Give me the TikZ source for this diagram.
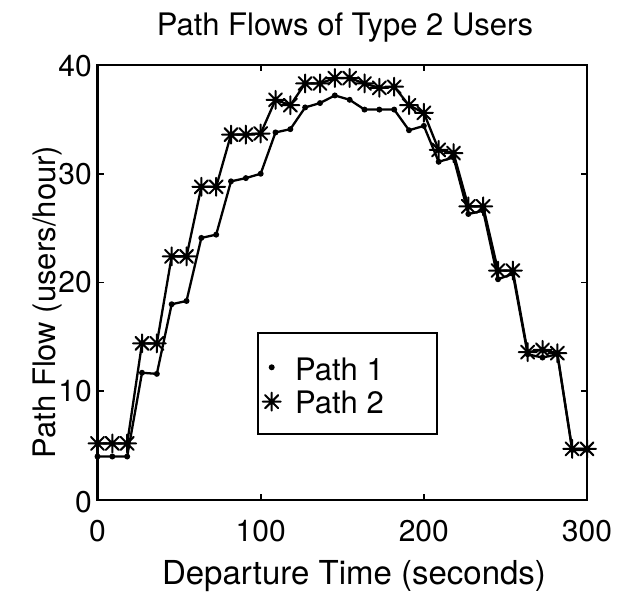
\documentclass[tikz,border=0pt]{standalone}
\usepackage{fontspec}
\setmainfont{TeX Gyre Heros}
\tikzset{
  lbl/.style={font=\fontsize{31}{36}\selectfont, inner sep=0pt},
  ticklbl/.style={font=\fontsize{30}{34}\selectfont, inner sep=0pt},
  star8/.pic={\draw[line width=2pt, line cap=round] (-9pt,0)--(9pt,0) (0,-9pt)--(0,9pt) (-6.5pt,-6.5pt)--(6.5pt,6.5pt) (-6.5pt,6.5pt)--(6.5pt,-6.5pt);},
  dataline/.style={line width=2.3pt, line join=round},
}
\begin{document}
\begin{tikzpicture}[x=1pt,y=-1pt]
\useasboundingbox (0,0) rectangle (628,601);
% title and labels
\node[lbl, anchor=base] (title) at (345,36) {Path Flows of Type 2 Users};
\node[lbl, anchor=base, font=\fontsize{33}{38}\selectfont] (xlabel) at (354,584) {Departure Time (seconds)};
\node[lbl, anchor=base, rotate=90] (ylabel) at (55,302) {Path Flow (users/hour)};
% x tick labels
\node[ticklbl, anchor=base] (x0) at (97.5,541) {0};
\node[ticklbl, anchor=base] (x100) at (260.7,541) {100};
\node[ticklbl, anchor=base] (x200) at (423.8,541) {200};
\node[ticklbl, anchor=base] (x300) at (587,541) {300};
% y tick labels
\node[ticklbl, anchor=east] (y0) at (92,502) {0};
\node[ticklbl, anchor=east] (y10) at (92,391.25) {10};
\node[ticklbl, anchor=east] (y20) at (92,282.5) {20};
\node[ticklbl, anchor=east] (y30) at (92,173.75) {30};
\node[ticklbl, anchor=east] (y40) at (92,66) {40};
% axes box
\draw[line width=2.2pt] (97.5,65) rectangle (587,500);
% ticks
\foreach \xx in {260.7,423.8} {
  \draw[line width=1.8pt] (\xx,500) -- (\xx,494);
  \draw[line width=1.8pt] (\xx,65) -- (\xx,71);
}
\foreach \yy in {391.25,282.5,173.75} {
  \draw[line width=1.8pt] (97.5,\yy) -- (103.5,\yy);
  \draw[line width=1.8pt] (587,\yy) -- (581,\yy);
}
% data
\begin{scope}[xshift=97.5pt, yshift=-500pt, x=1.6317pt, y=10.875pt]
\foreach \v [count=\k from 0] in {4.0,4.0,4.0,11.7,11.6,18.0,18.3,24.1,24.4,29.3,29.6,30.0,33.8,34.1,36.1,36.5,37.2,36.8,35.9,35.9,35.9,34.0,34.4,31.1,31.5,26.3,26.6,20.3,20.8,13.4,13.1,13.4,4.6,4.6}
  \coordinate (a\k) at ({\k*300/33},\v);
\foreach \v [count=\k from 0] in {5.2,5.2,5.2,14.4,14.4,22.4,22.4,28.8,28.8,33.6,33.6,33.7,36.8,36.3,38.3,38.3,38.8,38.8,38.3,37.9,38.0,36.3,35.6,32.2,31.9,27.0,27.0,21.1,21.1,13.6,13.8,13.5,4.7,4.7}
  \coordinate (b\k) at ({\k*300/33},\v);
\draw[dataline] (a0) \foreach \k in {1,...,33} { -- (a\k) };
\draw[dataline] (b0) \foreach \k in {1,...,33} { -- (b\k) };
\foreach \k in {0,...,33} { \fill (a\k) circle (3pt); }
\foreach \k in {0,...,33} { \pic at (b\k) {star8}; }
\end{scope}
% legend
\draw[line width=2pt] (258,333) rectangle (437,434);
\coordinate (legdot) at (271.7,367.3);
\coordinate (legstar) at (271.7,401.7);
\fill (legdot) circle (3pt);
\pic at (legstar) {star8};
\node[lbl, anchor=base west] (leg1) at (295,380) {Path 1};
\node[lbl, anchor=base west] (leg2) at (295,413) {Path 2};
\end{tikzpicture}
\end{document}
